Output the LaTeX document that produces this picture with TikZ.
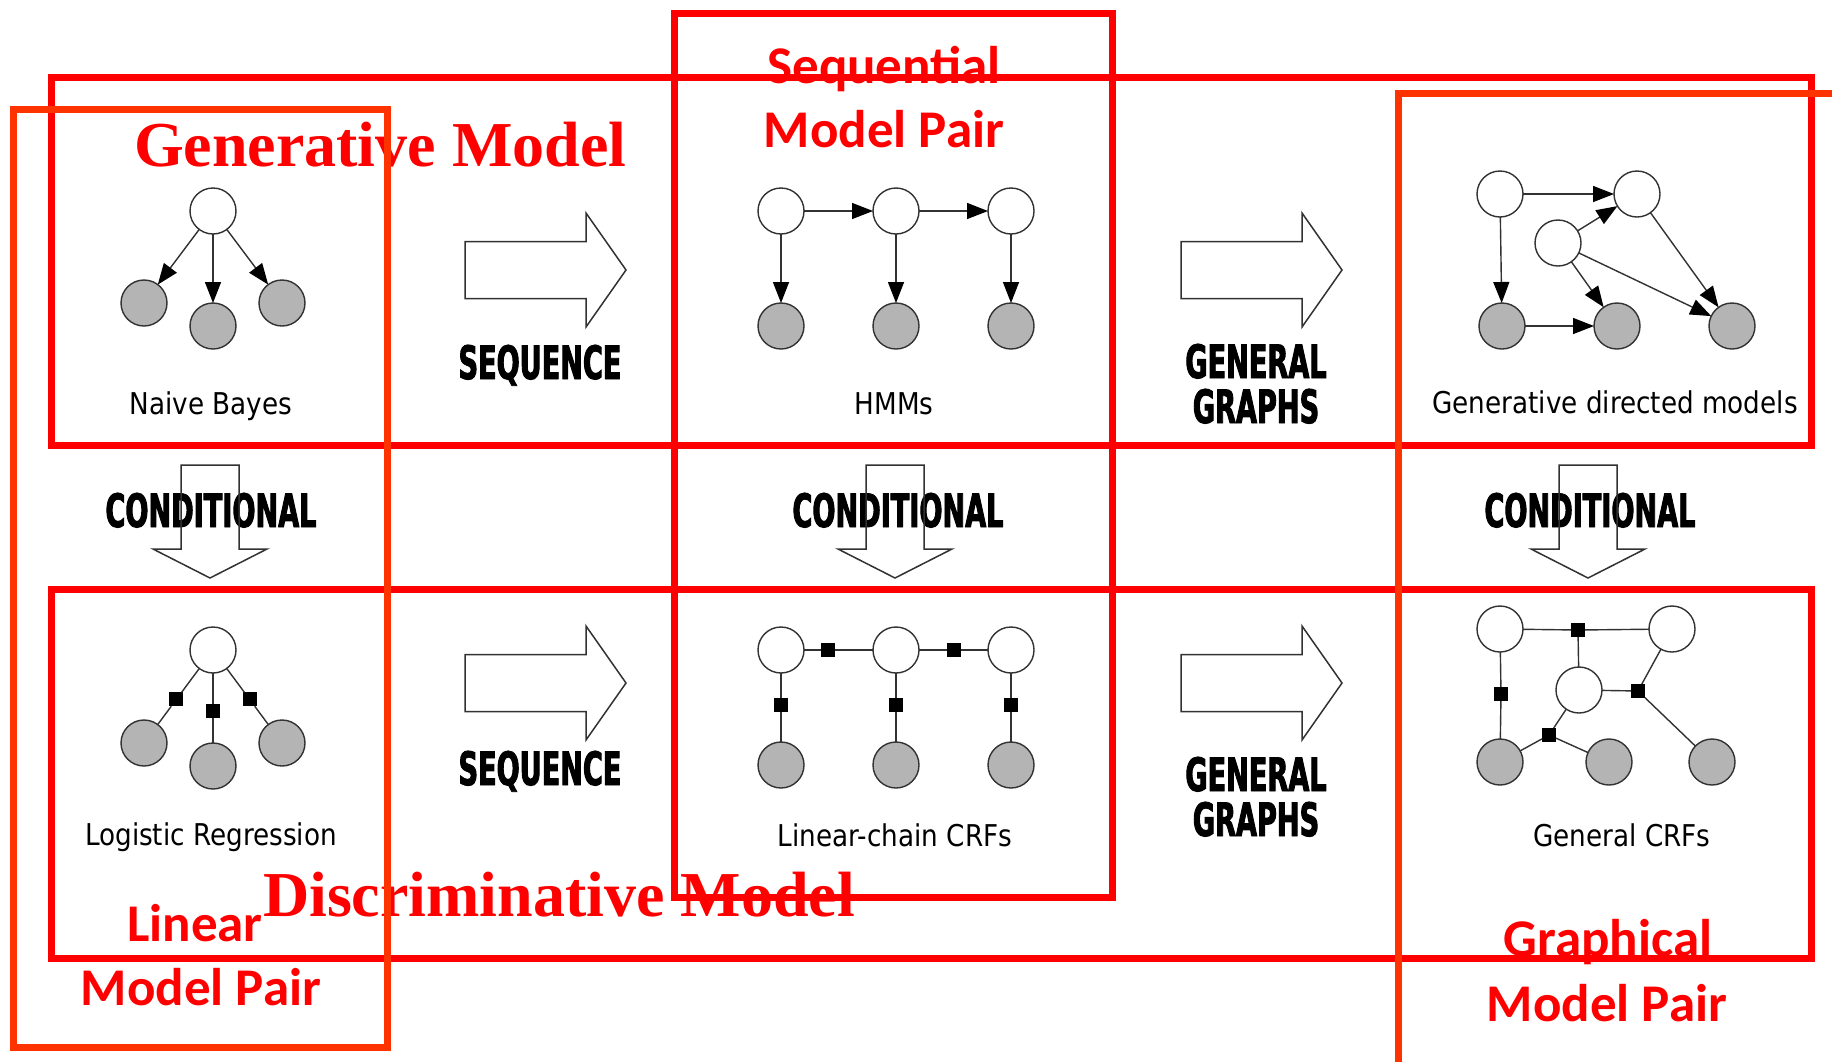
\documentclass[tikz,border=0pt]{standalone}
\usepackage{fontspec}
\setmainfont{Liberation Serif}
\newfontfamily\calfont{Carlito}
\newfontfamily\labfont[FakeStretch=0.875]{DejaVu Sans}
\newfontfamily\impfont[FakeStretch=0.59,FakeBold=2]{DejaVu Sans Bold}
\usetikzlibrary{arrows.meta,calc}
\definecolor{boxred}{RGB}{255,0,0}
\definecolor{boxorange}{RGB}{255,51,0}
\definecolor{nodegray}{RGB}{180,180,180}
\definecolor{edgegray}{RGB}{50,50,50}
\begin{document}
\begin{tikzpicture}[x=1pt,y=-1pt,
  every node/.style={inner sep=0pt, outer sep=0pt},
  latent/.style={circle, draw=edgegray, line width=1.4pt, fill=white, minimum size=46pt},
  observed/.style={latent, fill=nodegray},
  factor/.style={rectangle, fill=black, minimum size=14pt},
  edge/.style={draw=edgegray, line width=1.4pt},
  dir/.style={edge, -{Triangle[length=21pt,width=16pt,color=black]}},
  hollow/.style={draw=edgegray, line width=1.5pt, line join=miter},
  bigbox/.style={draw=boxred, line width=7pt},
  pairbox/.style={draw=boxorange, line width=7pt},
  gentitle/.style={text=boxred, font=\fontsize{64}{70}\selectfont\bfseries, anchor=base west},
  pairtitle/.style={text=boxred, font=\calfont\bfseries\fontsize{53}{60}\selectfont, anchor=base},
  steplabel/.style={font=\impfont\fontsize{46}{50}\selectfont, anchor=base},
  modlabel/.style={font=\labfont\fontsize{30}{34}\selectfont, anchor=base},
  rarrow/.pic={\path[hollow] (0,-28.5) -- (121,-28.5) -- (121,-57) -- (161,0) -- (121,57) -- (121,28.5) -- (0,28.5) -- cycle;},
  darrow/.pic={\path[hollow] (-29,-113) -- (29,-113) -- (29,-29) -- (57,-29) -- (0,0) -- (-57,-29) -- (-29,-29) -- cycle;}
]
\useasboundingbox (0,0) rectangle (1832,1061);
\fill[white] (0,0) rectangle (1832,1061);
\clip (0,0) rectangle (1832,1061);

% ---------- titles ----------
\node[gentitle] (tGen) at (134,166) {Generative Model};
\node[gentitle] (tDis) at (263,916) {Discriminative Model};
\node[pairtitle] (tSeq1) at (884,83) {Sequential};
\node[pairtitle] (tSeq2) at (884,147) {Model Pair};
\node[pairtitle] (tLin1) at (195,941) {Linear};
\node[pairtitle] (tLin2) at (201,1005) {Model Pair};
\node[pairtitle] (tGra1) at (1608,956) {Graphical};
\node[pairtitle] (tGra2) at (1607,1021) {Model Pair};

% ---------- step labels ----------
\node[steplabel] (sSeqT) at (540,379) {SEQUENCE};
\node[steplabel] (sSeqB) at (540,785) {SEQUENCE};
\node[steplabel] (sGenT1) at (1256,378) {GENERAL};
\node[steplabel] (sGenT2) at (1256,423) {GRAPHS};
\node[steplabel] (sGenB1) at (1256,791) {GENERAL};
\node[steplabel] (sGenB2) at (1256,836) {GRAPHS};
\node[steplabel] (sCon1) at (211,527) {CONDITIONAL};
\node[steplabel] (sCon2) at (898,527) {CONDITIONAL};
\node[steplabel] (sCon3) at (1590,527) {CONDITIONAL};

% ---------- model labels ----------
\node[modlabel] (lNB) at (211,414) {Naive Bayes};
\node[modlabel] (lHMM) at (894,414) {HMMs};
\node[modlabel] (lGDM) at (1615,413) {Generative directed models};
\node[modlabel] (lLR) at (211,845) {Logistic Regression};
\node[modlabel] (lLC) at (895,846) {Linear-chain CRFs};
\node[modlabel] (lGC) at (1622,846) {General CRFs};

% ---------- Naive Bayes ----------
\node[latent] (nbY) at (213,211) {};
\node[observed] (nbX1) at (144,303) {};
\node[observed] (nbX2) at (213,326) {};
\node[observed] (nbX3) at (282,303) {};
\draw[dir] (nbY) -- (nbX1);
\draw[dir] (nbY) -- (nbX2);
\draw[dir] (nbY) -- (nbX3);

% ---------- HMM ----------
\node[latent] (hY1) at (781,211) {};
\node[latent] (hY2) at (896,211) {};
\node[latent] (hY3) at (1011,211) {};
\node[observed] (hX1) at (781,326) {};
\node[observed] (hX2) at (896,326) {};
\node[observed] (hX3) at (1011,326) {};
\draw[dir] (hY1) -- (hY2);
\draw[dir] (hY2) -- (hY3);
\draw[dir] (hY1) -- (hX1);
\draw[dir] (hY2) -- (hX2);
\draw[dir] (hY3) -- (hX3);

% ---------- Generative directed models ----------
\node[latent] (dW1) at (1500,194) {};
\node[latent] (dW2) at (1637,194) {};
\node[latent] (dW3) at (1558,243) {};
\node[observed] (dG1) at (1502,326) {};
\node[observed] (dG2) at (1617,326) {};
\node[observed] (dG3) at (1732,326) {};
\draw[dir] (dW1) -- (dW2);
\draw[dir] (dW1) -- (dG1);
\draw[dir] (dW3) -- (dW2);
\draw[dir] (dW3) -- (dG2);
\draw[dir] (dW3) -- (dG3);
\draw[dir] (dW2) -- (dG3);
\draw[dir] (dG1) -- (dG2);

% ---------- Logistic regression ----------
\node[latent] (lrY) at (213,650) {};
\node[observed] (lrX1) at (144,743) {};
\node[observed] (lrX2) at (213,766) {};
\node[observed] (lrX3) at (282,743) {};
\node[factor] (lrF1) at ($(lrY)!0.53!(lrX1)$) {};
\node[factor] (lrF2) at ($(lrY)!0.53!(lrX2)$) {};
\node[factor] (lrF3) at ($(lrY)!0.53!(lrX3)$) {};
\draw[edge] (lrY) -- (lrF1) -- (lrX1);
\draw[edge] (lrY) -- (lrF2) -- (lrX2);
\draw[edge] (lrY) -- (lrF3) -- (lrX3);

% ---------- Linear-chain CRF ----------
\node[latent] (cY1) at (781,650) {};
\node[latent] (cY2) at (896,650) {};
\node[latent] (cY3) at (1011,650) {};
\node[observed] (cX1) at (781,765) {};
\node[observed] (cX2) at (896,765) {};
\node[observed] (cX3) at (1011,765) {};
\node[factor] (cF12) at (828,650) {};
\node[factor] (cF23) at (954,650) {};
\node[factor] (cV1) at (781,705) {};
\node[factor] (cV2) at (896,705) {};
\node[factor] (cV3) at (1011,705) {};
\draw[edge] (cY1) -- (cF12) -- (cY2) -- (cF23) -- (cY3);
\draw[edge] (cY1) -- (cV1) -- (cX1);
\draw[edge] (cY2) -- (cV2) -- (cX2);
\draw[edge] (cY3) -- (cV3) -- (cX3);

% ---------- General CRF ----------
\node[latent] (gY1) at (1500,629) {};
\node[latent] (gY2) at (1672,629) {};
\node[latent] (gY3) at (1579,690) {};
\node[observed] (gX1) at (1500,762) {};
\node[observed] (gX2) at (1609,762) {};
\node[observed] (gX3) at (1712,762) {};
\node[factor] (gF1) at (1578,630) {};
\node[factor] (gF2) at (1501,694) {};
\node[factor] (gF3) at (1638,691) {};
\node[factor] (gF4) at (1549,735) {};
\draw[edge] (gY1) -- (gF1) -- (gY2);
\draw[edge] (gF1) -- (gY3);
\draw[edge] (gY1) -- (gF2) -- (gX1);
\draw[edge] (gY3) -- (gF3) -- (gY2);
\draw[edge] (gF3) -- (gX3);
\draw[edge] (gY3) -- (gF4) -- (gX1);
\draw[edge] (gF4) -- (gX2);

% ---------- hollow arrows ----------
\pic at (465,270) {rarrow};
\pic at (465,683) {rarrow};
\pic at (1181,270) {rarrow};
\pic at (1181,683) {rarrow};
\pic at (210,578) {darrow};
\pic at (895,578) {darrow};
\pic at (1588,578) {darrow};

% ---------- boxes ----------
\draw[bigbox] (51,77) rectangle (1811,445);
\draw[bigbox] (51,589) rectangle (1811,958);
\draw[bigbox] (674,13) rectangle (1112,897);
\draw[pairbox] (13,109) rectangle (387,1047);
\draw[pairbox] (1398,1075) -- (1398,93) -- (1845,93);
\end{tikzpicture}
\end{document}
